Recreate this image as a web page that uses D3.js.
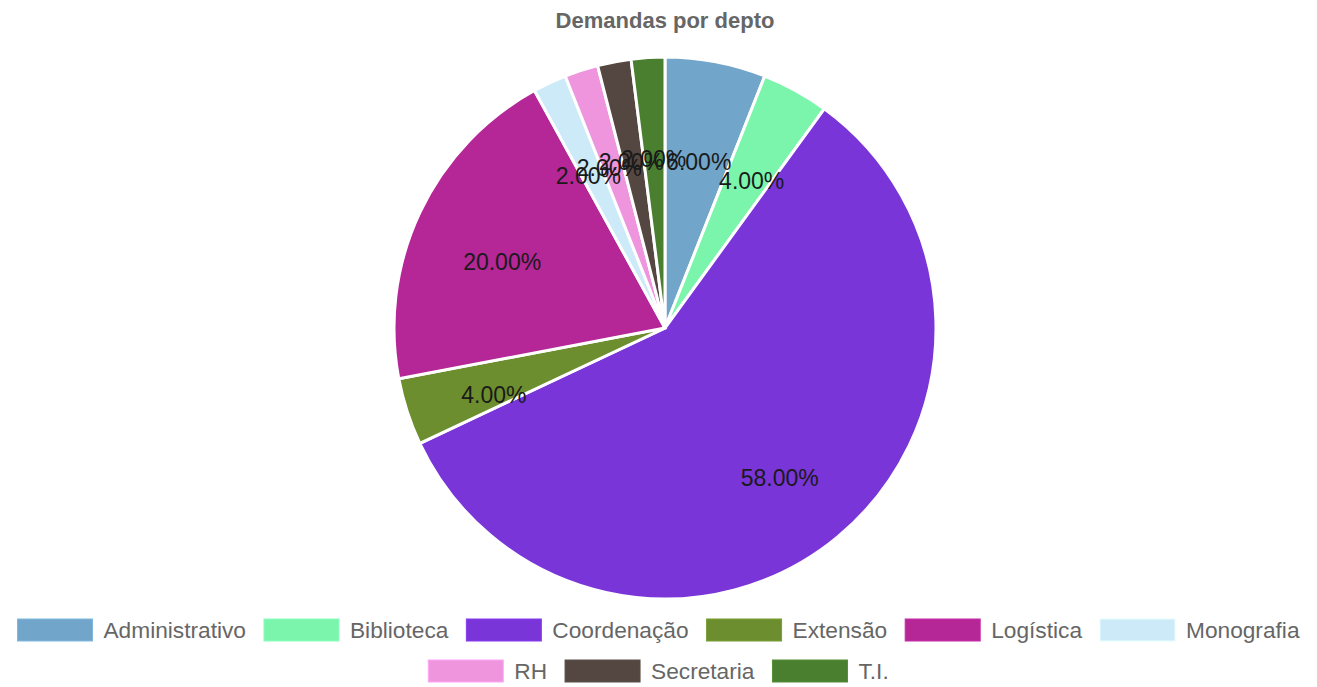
<!DOCTYPE html>
<html>
<head>
<meta charset="utf-8">
<script src="https://cdn.jsdelivr.net/npm/d3@7"></script>
<style>
	body { margin: 0; background: #fff; }
	svg { display: block; font-family: "Liberation Sans", Arial, sans-serif; }
</style>
</head>
<body>
<svg id="chart"></svg>
<script>

var departments = ["Administrativo", "Biblioteca", "Coordenação", "Extensão", "Logística", "Monografia", "RH", "Secretaria", "T.I."];
var shares = [6, 4, 58, 4, 20, 2, 2, 2, 2];
var colors = ["#71a5c9", "#7bf5ab", "#7935d7", "#6c8e2e", "#b52696", "#cdeaf8", "#ee95de", "#544741", "#4a7f30"];

var width = 1317,
	height = 687,
	cx = 665,
	cy = 328,
	radius = 271;

var svg = d3.select("#chart")
	.attr("width", width)
	.attr("height", height);

svg.append("text")
	.attr("x", 665)
	.attr("y", 28)
	.attr("text-anchor", "middle")
	.attr("font-size", 22)
	.attr("font-weight", "bold")
	.attr("fill", "#666")
	.text("Demandas por depto");

var total = d3.sum(shares);
var rows = departments.map((d, i) => ({ name: d, value: shares[i], color: colors[i] }));

var pie = d3.pie().sort(null).value(d => d.value);
var arc = d3.arc().innerRadius(0).outerRadius(radius);
var labelArc = d3.arc().innerRadius(180).outerRadius(180);

var g = svg.append("g").attr("transform", `translate(${cx},${cy})`);

var arcs = pie(rows);

g.selectAll("path")
	.data(arcs)
	.join("path")
	.attr("d", arc)
	.attr("fill", d => d.data.color)
	.attr("stroke", "#fff")
	.attr("stroke-width", 3);

// labels sit a little below the slice centroid, like the original
g.selectAll("text")
	.data(arcs)
	.join("text")
	.attr("transform", d => `translate(${labelArc.centroid(d)})`)
	.attr("y", 11)
	.attr("text-anchor", "middle")
	.attr("dy", "0.35em")
	.attr("font-size", 23)
	.attr("fill", "#1a1a1a")
	.text(d => (d.data.value / total * 100).toFixed(2) + "%");

// legend, wrapped into centered rows
var boxW = 75, boxH = 22, gapText = 11, gapItem = 18, fontSize = 22.7;
var legend = svg.append("g");

var items = legend.selectAll("g")
	.data(rows)
	.join("g");

items.append("rect")
	.attr("width", boxW)
	.attr("height", boxH)
	.attr("fill", d => d.color)
	.attr("stroke", d => d3.color(d.color).brighter(0.3))
	.attr("stroke-width", 1);

items.append("text")
	.attr("x", boxW + gapText)
	.attr("y", boxH / 2)
	.attr("dy", "0.35em")
	.attr("font-size", fontSize)
	.attr("fill", "#666")
	.text(d => d.name);

var widths = [];
items.each(function() {
	widths.push(boxW + gapText + d3.select(this).select("text").node().getComputedTextLength());
});

var maxW = width - 10;
var lines = [[]], lineW = [0];
widths.forEach((w, i) => {
	var cur = lines.length - 1;
	var add = (lines[cur].length ? gapItem : 0) + w;
	if (lineW[cur] + add > maxW) {
		lines.push([i]);
		lineW.push(w);
	} else {
		lines[cur].push(i);
		lineW[cur] += add;
	}
});

lines.forEach((line, r) => {
	var x = (width - lineW[r]) / 2;
	line.forEach(i => {
		d3.select(items.nodes()[i]).attr("transform", `translate(${x},${619 + r * 41})`);
		x += widths[i] + gapItem;
	});
});

</script>
</body>
</html>
